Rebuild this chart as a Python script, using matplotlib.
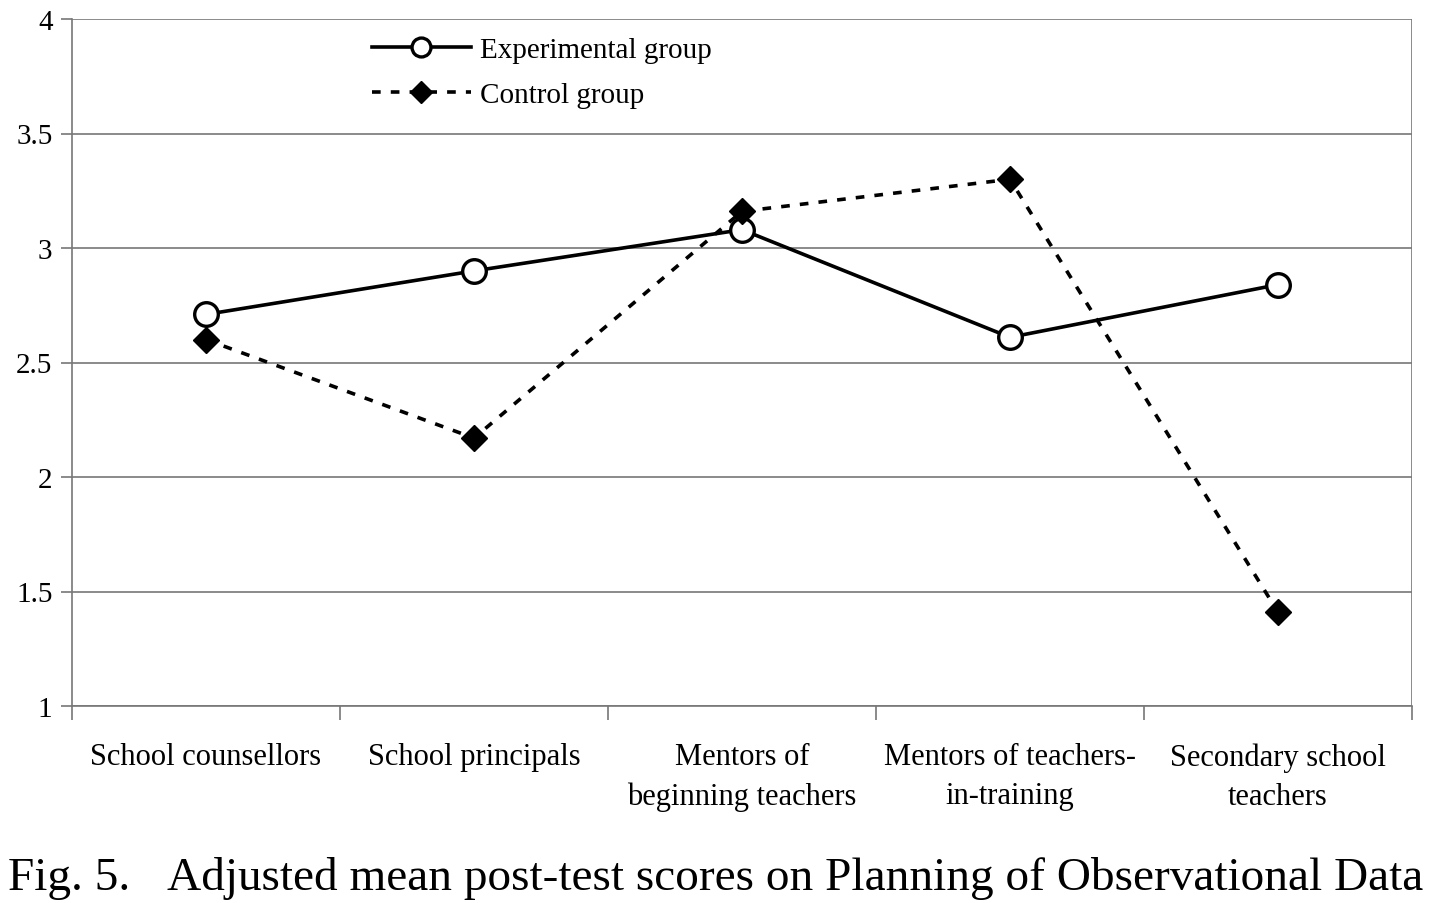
import matplotlib.pyplot as plt
import numpy as np

categories = ["School counsellors", "School principals", "Mentors of\nbeginning teachers",
              "Mentors of teachers-\nin-training", "Secondary school\nteachers"]
experimental = [2.71, 2.90, 3.08, 2.61, 2.84]
control = [2.60, 2.17, 3.16, 3.30, 1.41]
yticks = [1, 1.5, 2, 2.5, 3, 3.5, 4]
ytick_labels = ["1", "1.5", "2", "2.5", "3", "3.5", "4"]
caption_left = "Fig. 5."
caption_right = "Adjusted mean post-test scores on Planning of Observational Data"

plt.rcParams['font.family'] = ['Liberation Serif', 'DejaVu Serif']

fig = plt.figure(figsize=(14.5, 9.04), dpi=100)
ax = fig.add_axes([72 / 1450, 1 - 707 / 904, (1412 - 72) / 1450, (707 - 20) / 904])

x = np.arange(len(categories)) + 0.5
ax.plot(x, experimental, color='black', lw=2.6, marker='o', ms=17, mfc='white',
        mec='black', mew=2.4, label="Experimental group", zorder=3)
ax.plot(x, control, color='black', lw=2.6, ls=(0, (2.4, 2.8)), marker='D', ms=13.5,
        mfc='black', mec='black', label="Control group", zorder=4)

ax.set_xlim(0, len(categories))
ax.set_ylim(1, 4)
ax.set_yticks(yticks)
ax.set_yticklabels(ytick_labels, fontsize=21)
ax.yaxis.grid(True, color='#777777', lw=1.2)
ax.set_axisbelow(True)

ax.set_xticks(np.arange(len(categories) + 1))
ax.set_xticklabels([])
ax.set_xticks(x, minor=True)
ax.set_xticklabels(categories, minor=True, fontsize=22, linespacing=1.45)
ax.tick_params(axis='x', which='minor', length=0, pad=26)
ax.tick_params(axis='x', which='major', length=10, width=1.2, color='#777777', direction='out')
ax.tick_params(axis='y', length=8, width=1.2, color='#777777', pad=6)

for side in ['top', 'right']:
    ax.spines[side].set_visible(False)
for side in ['left', 'bottom']:
    ax.spines[side].set_color('#777777')
    ax.spines[side].set_linewidth(1.2)
ax.axvline(len(categories), color='#777777', lw=1.2)

leg = ax.legend(loc='upper left', bbox_to_anchor=(0.204, 1.012), frameon=False, fontsize=21,
                markerscale=0.8, handlelength=3.4, handletextpad=0.3, labelspacing=0.62)

fig.text(8 / 1450, 1 - 890 / 904, caption_left, fontsize=34, ha='left', va='baseline')
fig.text(1423 / 1450, 1 - 890 / 904, caption_right, fontsize=34, ha='right', va='baseline')

fig.savefig("out.png", dpi=100)
